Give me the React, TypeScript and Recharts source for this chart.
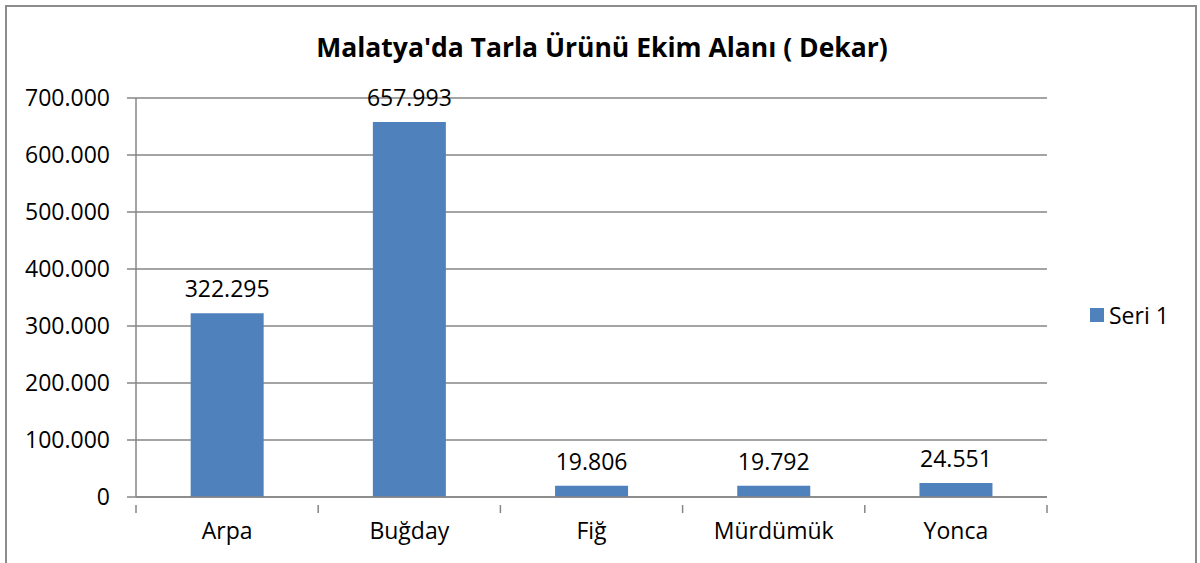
import React from "react";
import {
  Bar,
  BarChart,
  CartesianGrid,
  LabelList,
  XAxis,
  YAxis,
} from "recharts";

const categories = ["Arpa", "Buğday", "Fiğ", "Mürdümük", "Yonca"];
const seri1 = [322295, 657993, 19806, 19792, 24551];
const seriesName = "Seri 1";
const yTicks = [0, 100000, 200000, 300000, 400000, 500000, 600000, 700000];

const FONT = "'Open Sans', Lato, sans-serif";
const GRID = "#868686";
const BAR = "#4F81BD";
const FS = 23;

const data = categories.map((name, i) => ({ name, seri1: seri1[i] }));

// 700000 -> "700.000"
const formatNumber = (v: number) =>
  String(Math.round(v)).replace(/\B(?=(\d{3})+(?!\d))/g, ".");

const CategoryTick = (props: any) => {
  const { x, y, payload, index } = props;
  const half = (1047 - 136) / categories.length / 2;
  return (
    <g>
      <line x1={x - half} y1={y} x2={x - half} y2={y + 8} stroke={GRID} strokeWidth={1.5} />
      {index === categories.length - 1 && (
        <line x1={x + half} y1={y} x2={x + half} y2={y + 8} stroke={GRID} strokeWidth={1.5} />
      )}
      <text x={x} y={y + 34} textAnchor="middle" fontSize={FS} fill="#000" fontFamily={FONT}>
        {payload.value}
      </text>
    </g>
  );
};

export default function App() {
  return (
    <div
      style={{
        position: "absolute",
        left: 0,
        top: 0,
        width: 1200,
        height: 563,
        overflow: "hidden",
        background: "#fff",
      }}
    >
      <div
        style={{
          position: "absolute",
          left: 5,
          top: 5,
          width: 1188,
          height: 600,
          border: "2px solid #8c8c8c",
        }}
      />
      <div
        style={{
          position: "absolute",
          left: 0,
          top: 29,
          width: 1204,
          textAlign: "center",
          fontFamily: FONT,
          fontWeight: "bold",
          fontSize: 26.5,
          color: "#000",
        }}
      >
        Malatya'da Tarla Ürünü Ekim Alanı ( Dekar)
      </div>
      <BarChart
        width={1200}
        height={563}
        data={data}
        margin={{ top: 98, right: 153, bottom: 0, left: 0 }}
        barCategoryGap="30%"
        style={{ position: "absolute", left: 0, top: 0 }}
      >
        <CartesianGrid vertical={false} stroke={GRID} strokeWidth={1.5} />
        <XAxis
          dataKey="name"
          height={66}
          axisLine={{ stroke: GRID, strokeWidth: 1.5 }}
          tickLine={false}
          tick={<CategoryTick />}
          interval={0}
        />
        <YAxis
          width={136}
          domain={[0, 700000]}
          ticks={yTicks}
          tickFormatter={formatNumber}
          axisLine={{ stroke: GRID, strokeWidth: 1.5 }}
          tickLine={{ stroke: GRID, strokeWidth: 1.5 }}
          tickSize={9}
          tickMargin={17}
          tick={{ fill: "#000", fontSize: FS, fontFamily: FONT }}
        />
        <Bar dataKey="seri1" name={seriesName} fill={BAR} isAnimationActive={false}>
          <LabelList
            dataKey="seri1"
            position="top"
            offset={16}
            formatter={(v: any) => formatNumber(Number(v))}
            style={{ fill: "#000", fontSize: FS, fontFamily: FONT }}
          />
        </Bar>
      </BarChart>
      <div
        style={{
          position: "absolute",
          left: 1090,
          top: 299,
          display: "flex",
          alignItems: "center",
          fontFamily: FONT,
          fontSize: FS,
          color: "#000",
        }}
      >
        <span style={{ width: 14, height: 14, background: BAR, marginRight: 5 }} />
        <span>{seriesName}</span>
      </div>
    </div>
  );
}
